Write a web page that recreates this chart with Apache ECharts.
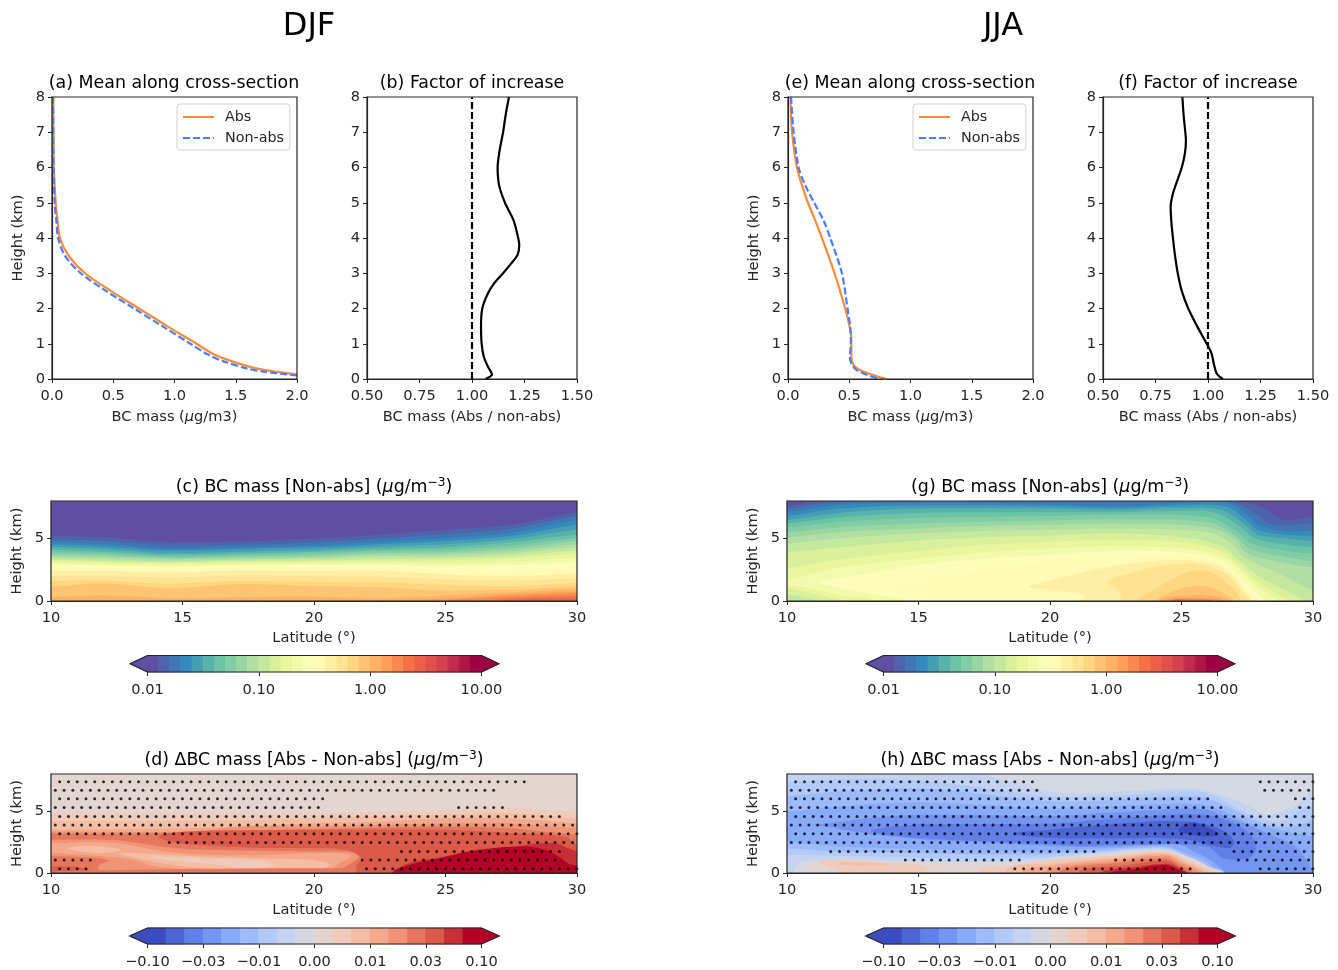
<!DOCTYPE html>
<html><head><meta charset="utf-8">
<style>html,body{margin:0;padding:0;background:#fff}#c{width:1338px;height:970px}</style>
<script src="https://cdn.jsdelivr.net/npm/echarts@6/dist/echarts.min.js"></script>
</head><body><div id="c"></div>
<script>
// ---------- line profiles (value, height in km) ----------
const heightA = [8,7,6,5,4.5,4,3.5,3,2.5,2,1.5,1,0.7,0.5,0.3,0.2,0.13];
const absA    = [0.01,0.012,0.015,0.03,0.045,0.065,0.135,0.27,0.48,0.71,0.94,1.18,1.32,1.47,1.67,1.84,2.0];
const heightA2= [8,7,6,5,4.5,4,3.5,3,2.5,2,1.5,1,0.7,0.5,0.3,0.2,0.1];
const nonA    = [0.008,0.01,0.012,0.022,0.035,0.05,0.105,0.235,0.44,0.67,0.9,1.13,1.27,1.4,1.59,1.75,2.0];
const heightB = [8,7.48,7,6.5,6,5.5,5,4.5,4,3.8,3.52,3.28,3,2.72,2.43,2,1.5,1,0.64,0.36,0.12,0.06,0];
const ratioB  = [1.176,1.16,1.148,1.132,1.122,1.129,1.157,1.198,1.22,1.225,1.217,1.187,1.148,1.106,1.076,1.049,1.043,1.046,1.056,1.075,1.095,1.084,1.065];
const heightE = [8,7,6,5.5,5,4.5,4,3,2,1.5,1.2,1,0.6,0.4,0.25,0.1,0];
const absE    = [0.02,0.033,0.073,0.114,0.163,0.222,0.277,0.38,0.467,0.502,0.516,0.516,0.518,0.535,0.589,0.71,0.80];
const nonE    = [0.025,0.046,0.087,0.14,0.214,0.29,0.345,0.44,0.486,0.507,0.513,0.513,0.505,0.524,0.562,0.657,0.752];
const heightF = [8,7.48,7,6.77,6.4,6,5.5,5.26,4.89,4.5,4,3.5,3,2.5,2,1.5,1,0.74,0.45,0.17,0.06,0];
const ratioF  = [0.878,0.884,0.892,0.895,0.89,0.875,0.846,0.833,0.822,0.825,0.833,0.843,0.856,0.875,0.906,0.948,0.994,1.016,1.027,1.04,1.056,1.071];
const unityRatio = [1,1];
const unityHeight = [0,8];

// ---------- colour bar ticks ----------
const massTicks = [0.01,0.1,1,10];
const deltaTickLabels = ['−0.10','−0.03','−0.01','0.00','0.01','0.03','0.10'];
const massCellCount = 30;
const deltaCellCount = 18;
const massOverflow = [0.00697,14.35];   // tips of the extend arrows, on the log scale
const deltaOverflow = [-0.32,6.32];     // tips of the extend arrows, on the tick index scale

// ---------- filled contours: [colour cell, polygon in (latitude, km)] ----------
function below(c){ const a=c[0], b=c[c.length-1]; return [[9,a[1]],...c,[31,b[1]],[31,-2],[9,-2]]; }
const wholePanel = [[9,-2],[31,-2],[31,10],[9,10]];

const latKnotsC = [10,12,14.5,17,20,22.5,25,27.5,30];
const massContoursC = [
 [5.2,5.1,4.7,4.75,5.0,5.3,5.7,6.1,7.1],
 [4.95,4.8,4.45,4.5,4.7,5.0,5.35,5.8,6.8],
 [4.7,4.55,4.2,4.3,4.45,4.75,5.05,5.45,6.5],
 [4.5,4.35,4.05,4.15,4.3,4.55,4.8,5.2,6.1],
 [4.3,4.15,3.85,3.95,4.1,4.35,4.55,4.95,5.7],
 [4.1,3.95,3.7,3.8,3.95,4.15,4.3,4.7,5.3],
 [3.9,3.8,3.55,3.65,3.8,4.0,4.1,4.45,5.05],
 [3.75,3.65,3.45,3.55,3.65,3.85,3.9,4.2,4.8],
 [3.6,3.5,3.35,3.4,3.5,3.7,3.75,4.0,4.55],
 [3.45,3.35,3.2,3.3,3.4,3.55,3.55,3.8,4.3],
 [3.3,3.2,3.1,3.2,3.25,3.35,3.4,3.6,4.05],
 [3.2,3.1,3.0,3.1,3.15,3.2,3.25,3.4,3.8],
 [3.05,2.95,2.85,2.95,3.0,3.05,3.0,3.15,3.45],
 [2.95,2.85,2.75,2.85,2.9,2.9,2.8,2.9,3.1],
 [2.7,2.65,2.55,2.7,2.7,2.7,2.5,2.4,2.6],
 [2.4,2.4,2.3,2.45,2.4,2.4,2.15,2.0,2.2],
 [2.0,2.0,1.9,2.05,2.0,1.95,1.75,1.65,1.8],
 [1.6,1.65,1.4,1.6,1.55,1.5,1.3,1.2,1.45],
 [1.15,1.4,1.05,1.35,1.2,1.1,0.85,0.9,1.15],
 [0.3,0.45,0.25,0.3,0.35,0.25,0.45,0.7,0.95],
 [0.05,0.07,0.05,0.05,0.07,0.07,0.2,0.55,0.75],
 [-0.5,-0.5,-0.5,-0.5,-0.5,-0.2,0.05,0.38,0.6],
 [-0.5,-0.5,-0.5,-0.5,-0.5,-0.5,-0.2,0.2,0.4],
 [-0.5,-0.5,-0.5,-0.5,-0.5,-0.5,-0.5,0.07,0.2]
];
const layersC = [[0,wholePanel]].concat(massContoursC.map((r,i)=>[i+1,below(r.map((h,j)=>[latKnotsC[j],h]))]));

const layersD = [
 [9,wholePanel],
 [10,below([[10,4.83],[15,4.85],[20,4.85],[25,5.1],[27.5,5.23],[30,4.97]])],
 [11,below([[10,4.2],[15,4.2],[20,4.43],[25,4.7],[27.5,4.83],[30,4.43]])],
 [12,below([[10,3.5],[15,3.62],[20,4.03],[22.5,4.16],[25,4.43],[27.5,4.43],[30,4.03]])],
 [13,below([[10,3.35],[15,3.35],[17.4,3.76],[20,3.76],[22.5,3.9],[25,4.03],[27.5,4.03],[30,3.62]])],
 [14,below([[10,3.2],[12,3.15],[15,3.25],[20,3.55],[25,3.75],[27.5,3.6],[30,3.1]])],
 [13,[[9,2.7],[10,2.68],[12.3,2.68],[14.8,2.0],[20,1.74],[21.44,1.7],[21.7,1.3],[21.3,0.67],[20.8,0.13],[9,0.13]]],
 [12,[[9,2.4],[10,2.4],[12.3,2.45],[14.8,1.62],[17.4,1.43],[20,1.6],[21.4,1.45],[21,0.8],[20.4,0.15],[17,0.12],[15,0.3],[13.8,0.6],[13.3,1.0],[12,1.35],[10,1.6],[9,1.6]]],
 [11,[[10.66,2.0],[11.4,2.2],[12.7,1.88],[11.7,1.6]]],
 [11,[[12.6,1.6],[15,1.4],[18.6,1.15],[20,1.05],[20.6,0.7],[20.2,0.3],[19,0.14],[16.5,0.3],[14.5,0.7]]],
 [10,[[13.7,1.34],[16.1,1.15],[18.1,1.0],[18.5,0.67],[17.6,0.32],[16.4,0.67],[14.8,0.94]]],
 [13,[[9,1.55],[10,1.55],[11.5,1.4],[13,1.0],[13.5,0.4],[13.7,0.1],[9,0.1]]],
 [14,[[9,1.35],[10,1.35],[11.5,1.25],[12.2,1.0],[11.8,0.6],[11.8,0.1],[9,0.1]]],
 [15,[[9,0.6],[10,0.55],[11,0.5],[11.5,0.15],[9,0.15]]],
 [14,[[9,0.1],[31,0.1],[31,-1],[9,-1]]],
 [15,[[14.08,2.95],[14.84,3.3],[17,3.45],[20,3.5],[25,3.49],[27.5,3.22],[29.55,2.95],[30,2.28],[31,2],[31,-1],[21.9,-1],[21.6,0.5],[21.8,1.2],[21.2,1.88],[20,2.01],[17.4,2.07],[14.84,2.42]]],
 [16,[[22.8,-0.5],[23.5,0.7],[25,1.3],[27,1.95],[29.05,2.42],[29.8,1.9],[31,1.0],[31,-0.5]]],
 [17,[[23.0,-0.5],[23.1,0.27],[24.74,1.2],[26.26,1.88],[28,2.15],[28.8,1.88],[29.3,1.34],[29.8,0.67],[31,0.5],[31,-0.5]]]
];

const layersG = [
 [0,wholePanel],
 [1,below([[10,7.6],[11,8],[12,8.6],[20,8.6],[26.5,8.6],[27.3,8],[28,7.6],[28.9,6.5],[30,6.8]])],
 [2,below([[10,7.4],[12,7.95],[15,8.05],[20,8.0],[24,8.0],[26.5,8.05],[27.2,7.7],[27.8,7],[28.5,6.1],[30,6.2]])],
 [3,below([[10,7.1],[12,7.7],[15,7.85],[20,7.75],[22.5,7.6],[25,7.85],[26.8,7.8],[27.5,6.9],[28,6.0],[29,5.6],[30,5.6]])],
 [4,below([[10,6.8],[12,7.4],[15,7.65],[20,7.6],[22.5,7.45],[25,7.65],[26.7,7.55],[27.4,6.6],[27.9,5.7],[29,5.3],[30,5.2]])],
 [5,below([[10,6.5],[12,7.05],[15,7.4],[20,7.4],[22.5,7.3],[25,7.45],[26.5,7.3],[27.3,6.3],[27.9,5.3],[29,5.0],[30,4.8]])],
 [6,below([[10,6.2],[12,6.7],[15,7.05],[20,7.1],[22.5,7.1],[25,7.2],[26.3,7.05],[27.2,6.0],[27.8,5.0],[29,4.5],[30,4.3]])],
 [7,below([[10,5.9],[12,6.35],[15,6.65],[17.5,6.75],[20,6.8],[22.5,6.9],[26,6.7],[27,5.7],[27.7,4.6],[29,4.0],[30,3.8]])],
 [8,below([[10,5.5],[12,5.9],[15,6.2],[17.5,6.35],[20,6.45],[22.5,6.55],[26,6.3],[27,5.3],[27.6,4.2],[29,3.5],[30,3.2]])],
 [9,below([[10,5.1],[12,5.5],[15,5.8],[17.5,6.0],[20,6.1],[22.5,6.2],[26,5.9],[27,5],[27.5,3.8],[29,3.0],[30,2.7]])],
 [10,below([[10,4.6],[12,5.0],[15,5.4],[17.5,5.6],[20,5.7],[22.5,5.8],[26,5.5],[26.9,4.6],[27.4,3.5],[29,1.9],[30,0.9]])],
 [11,[[9,3.8],[10,3.9],[12,4.3],[15,4.85],[17.5,5.1],[20,5.25],[22.5,5.4],[25,5.1],[26.5,4.4],[27.2,3.2],[28,1.9],[29,0.8],[29.8,-0.2],[29.8,-1],[11.1,-1],[11.1,0],[10.7,0.3],[10,0.55],[9,0.6]]],
 [12,[[9,2.4],[10,2.6],[12,3.3],[15,4.0],[17.5,4.5],[20,4.75],[22.5,4.9],[25,4.7],[26.5,4.0],[27.2,2.9],[27.8,1.7],[28.5,0.7],[29.2,-0.2],[29.2,-1],[12.1,-1],[12.1,0],[11.5,0.3],[10.8,0.7],[10,1.0],[9,1.1]]],
 [13,[[9,1.6],[10,1.7],[11,2.2],[12,2.7],[15,3.4],[17.5,3.9],[20,4.2],[22.5,4.4],[25,4.2],[26.5,3.6],[27.2,2.6],[27.7,1.5],[28.3,0.5],[28.8,-0.2],[28.8,-1],[13.4,-1],[13.4,0],[12.2,0.4],[11,0.95],[10,1.3],[9,1.4]]],
 [14,[[11.2,1.5],[13,2.2],[15,2.9],[17.5,3.4],[20,3.7],[22.5,4.0],[25,3.9],[26.5,3.3],[27.1,2.3],[27.6,1.2],[28.1,0.2],[28.3,-0.2],[28.3,-1],[14.5,-1],[14.5,0],[14,0.3],[13,0.6],[11.8,1.15]]],
 [15,[[13,1.12],[15,1.5],[16,2],[17.5,2.6],[20,3.2],[22.5,3.55],[25,3.65],[26.5,3.1],[27,2.1],[27.5,1.0],[27.9,0.1],[28,-1],[15.6,-1],[15.6,0],[15,0.6],[14,0.95]]],
 [16,[[19.2,1.15],[20.5,1.9],[22,2.65],[23.5,3.1],[25,3.3],[26.3,2.9],[27,1.9],[27.4,0.8],[27.7,0],[27.7,-1],[21,-1],[21.3,0.45],[20,0.85]]],
 [17,[[22.2,1.6],[23,2.2],[24.5,2.9],[25.8,2.9],[26.8,2],[27.3,0.7],[27.6,0],[27.6,-1],[22.5,-1],[22.7,0.5],[22.5,0.9]]],
 [18,[[23.3,0],[23.8,0.7],[24.5,1.6],[25.3,2.35],[26,2.4],[26.8,1.3],[27.2,0.3],[27.3,-1],[23.3,-1]]],
 [19,[[24,0],[24.6,0.7],[25.2,1.1],[26,1.15],[26.8,0.4],[27,0],[27,-1],[24,-1]]],
 [20,[[24.2,0.1],[25,0.45],[26,0.45],[26.8,0.1],[26.9,-1],[24.2,-1]]],
 [21,[[24.4,0.05],[25.2,0.25],[26,0.2],[26.6,0.03],[26.6,-1],[24.4,-1]]],
 [23,[[24.6,0],[25.2,0.12],[25.9,0.1],[26.2,0],[26.2,-1],[24.6,-1]]]
];

const layersH = [
 [8,wholePanel],
 [7,[[9,9],[17.6,9],[17.6,8],[18.4,7.5],[20,6.6],[21.2,6.44],[23.7,6.7],[25.5,6.8],[26.5,6.3],[27.5,5.5],[28.2,4.75],[28.8,4.97],[29.36,5.5],[29.74,6.3],[30,6.7],[31,7.2],[31,-2],[9,-2]]],
 [6,below([[10,7.4],[12,7.55],[13.9,7.6],[16.8,7.1],[20,6.2],[22.4,6.25],[25.5,6.6],[26.3,6.2],[27,5.4],[28,4.4],[28.8,4.15],[29.4,4.97],[30,5.5]])],
 [5,below([[10,6.2],[12,6.6],[14.8,6.85],[16.5,6.6],[20,5.8],[22.4,5.9],[25.5,6.2],[26.3,5.8],[27,5.1],[28,4.1],[29,3.7],[30,4.2]])],
 [4,below([[10,4.95],[12,5.4],[14.8,5.7],[17,5.55],[20,5.2],[23,5.45],[25.5,5.6],[26.5,5.1],[27.5,4.1],[28.5,3.6],[29.3,3.2],[30,3.0]])],
 [3,below([[10,3.9],[11,3.9],[13,4.4],[14.8,4.7],[17,4.7],[20,4.6],[22.45,4.9],[25,5.2],[26,5.1],[26.5,4.7],[27.5,3.9],[28.5,3.0],[29.3,2.2],[29.8,0.9],[30,0.3]])],
 [2,[[13.2,3.45],[14.8,3.9],[17,3.95],[20,4.0],[22.45,4.4],[24.9,4.75],[25.9,4.7],[26.76,4.25],[27.5,3.36],[27.85,2.2],[27.6,1.25],[26.6,1.2],[26,2.1],[23.7,2.3],[21.2,2.2],[19.9,2.35],[16,2.7],[13.8,3.1]]],
 [1,[[18.6,3.2],[20,3.5],[22.45,3.95],[24.6,4.2],[25.9,3.95],[26.76,3.2],[27,2.4],[26.76,2.0],[25,2.75],[22.45,2.8],[19.9,2.85]]],
 [0,[[24.9,3.6],[25.4,4.1],[25.9,3.76],[26.4,3.2],[26.2,2.95],[25.4,3.1],[24.9,3.36]]],
 [4,[[9,3.9],[11,3.85],[13,3.2],[15,2.75],[17,2.5],[19.9,2.2],[21.2,2.1],[23.7,2.25],[24.9,2.3],[25.5,1.7],[26.2,0.9],[27,-1],[9,-1]]],
 [5,[[9,2.6],[10,2.5],[12,2.15],[14,2.0],[17,1.85],[19.5,1.75],[22,1.95],[24.4,2.15],[25.3,1.5],[26,0.8],[26.8,-1],[9,-1]]],
 [6,[[9,2.1],[10,2.0],[12,1.75],[14,1.65],[17,1.5],[19.5,1.5],[22,1.8],[24.4,2.05],[25.2,1.4],[25.9,0.7],[26.7,-1],[9,-1]]],
 [7,[[9,1.6],[10,1.5],[12,1.4],[14,1.3],[17,1.15],[19.5,1.25],[22,1.7],[24.4,1.95],[25.1,1.35],[25.8,0.65],[26.6,-1],[9,-1]]],
 [8,[[10.3,-1],[10.3,0.4],[10.6,0.9],[12,1.1],[14,1.0],[17,0.9],[19.5,1.1],[22,1.6],[24.4,1.88],[25,1.3],[25.7,0.6],[26.5,-1]]],
 [9,[[10.8,-1],[10.8,0.5],[11,0.85],[12.5,0.95],[15,0.75],[17.5,0.7],[20,1.0],[22.4,1.5],[24.4,1.8],[25.4,1.2],[26,0.54],[26.64,0],[26.7,-1]]],
 [10,[[11.2,0.9],[12,1.05],[13.5,0.9],[15.3,0.45],[15.1,-0.5],[12.7,-0.5],[11.6,0.5]]],
 [11,[[12,0.85],[13,0.8],[14,0.72],[13,0.6],[12,0.68]]],
 [10,[[17.4,0.3],[18.5,0.55],[19.9,1.07],[22.45,1.42],[24.42,1.69],[25.37,0.94],[25.9,0.4],[26.45,0],[26.5,-1],[17.5,-1]]],
 [11,[[18.4,0.4],[20,0.75],[22.45,1.3],[24.42,1.6],[25.3,0.85],[25.8,0.35],[26.3,-0.2],[18.4,-1]]],
 [12,[[19,0.2],[20,0.6],[22.45,1.15],[24.4,1.5],[25.1,0.85],[25.7,0.3],[26.1,-0.5],[19,-0.5]]],
 [13,[[20,0.35],[22.45,0.95],[24.4,1.4],[25,0.8],[25.6,0.2],[25.9,-0.5],[19.6,-0.5]]],
 [14,[[20.5,0.3],[22.45,0.8],[24.4,1.2],[24.9,0.7],[25.4,0.15],[25.7,-0.5],[20.2,-0.5]]],
 [15,[[21.2,0.25],[22.8,0.6],[24.4,1.0],[24.9,0.55],[25.2,0.1],[25.3,-0.5],[21,-0.5]]],
 [16,[[22,0.1],[23.3,0.5],[24.4,0.75],[24.9,0.4],[25.1,-0.5],[21.9,-0.5]]],
 [17,[[22.2,0],[23.1,0.27],[24.36,0.67],[24.9,0.27],[25.24,0],[25.24,-0.5],[22.2,-0.5]]]
];

// ---------- significance stippling: row heights, first latitude, kept latitude ranges ----------
const stippleHeights = [7.38,6.68,5.99,5.29,4.56,3.87,3.17,2.47,1.74,1.05,0.35];
const stippleStart   = [10.33,10.165,10.33,10.165,10.33,10.165,10.33,10.165,10.33,10.165,10.33];
const stippleRangesD = [
 [[10,28.3]],[[10,26.85]],[[10,20.65]],[[10,20.2],[25.4,27.2]],[[10,29.35]],[[10,29.85]],[[10,30]],
 [[14.45,30]],[[23.25,29.55]],[[10,11.55],[21.75,29.2]],[[10,11.4],[21.95,30]]
];
const stippleRangesH = [
 [[10,19.65],[27.9,30]],[[10,19.8],[28.05,30]],[[10,26.3],[29.2,30]],[[10,26.8],[29.35,30]],[[10,30]],[[10,30]],[[10,30]],[[10,30]],
 [[11.55,21.7],[26.85,30]],[[14.35,19.15],[22.25,24.45],[27.05,30]],[[18.55,25.65],[27.85,30]]
];

// ---------- helpers ----------
const FONT = 'DejaVu Sans', INK = '#262626', TITLE_SIZE = 17.4, LABEL_SIZE = 14.6;
function hexMix(stops,t){
  const p=t*(stops.length-1), i=Math.min(Math.floor(p),stops.length-2), f=p-i;
  const c=s=>[1,3,5].map(k=>parseInt(s.substr(k,2),16));
  const a=c(stops[i]), b=c(stops[i+1]);
  return 'rgb('+a.map((v,k)=>Math.round(v+(b[k]-v)*f)).join(',')+')';
}
const spectralStops=['#5e4fa2','#3288bd','#66c2a5','#abdda4','#e6f598','#ffffbf','#fee08b','#fdae61','#f46d43','#d53e4f','#9e0142'];
const coolwarmStops=['#3b4cc0','#6282ea','#8db0fe','#b9d0f9','#dddcdc','#f5c4ac','#f49a7b','#dd5f4b','#b40426'];
const spectralCell=i=>hexMix(spectralStops,i/(massCellCount-1));
const coolwarmCell=i=>hexMix(coolwarmStops,i/(deltaCellCount-1));
const zip=(a,b)=>a.map((v,i)=>[v,b[i]]);
function stipple(ranges){
  const out=[];
  stippleHeights.forEach((h,r)=>{
    for(let k=0;k<60;k++){
      const lat=stippleStart[r]+k/3;
      if(ranges[r].some(q=>lat>=q[0]&&lat<=q[1])) out.push([lat,h]);
    }
  });
  return out;
}

const grid=[],xAxis=[],yAxis=[],series=[],title=[];
const label={fontFamily:FONT,fontSize:LABEL_SIZE,color:INK};
const tickStyle={show:true,length:4,lineStyle:{color:INK,width:1}};
const lineStyleAxis={show:true,onZero:false,lineStyle:{color:INK,width:1.2}};
const nameRich={i:{fontFamily:FONT,fontSize:LABEL_SIZE,fontStyle:'italic',color:INK}};
const xTick=Object.assign({},label,{margin:10});
const barTick=Object.assign({},label,{margin:11});
const yTick=Object.assign({},label,{margin:7,padding:[3,0,0,0]});
function addGrid(box,xa,ya){
  grid.push({left:box[0],top:box[1],width:box[2],height:box[3],show:true,borderColor:INK,borderWidth:1.2,backgroundColor:'transparent',z:5});
  xAxis.push(Object.assign({gridIndex:grid.length-1,type:'value',position:'bottom',splitLine:{show:false},axisLine:lineStyleAxis,axisTick:tickStyle,
    nameLocation:'middle',nameTextStyle:Object.assign({},label,{rich:nameRich})},xa));
  yAxis.push(Object.assign({gridIndex:grid.length-1,type:'value',splitLine:{show:false},axisLine:lineStyleAxis,axisTick:tickStyle,
    nameLocation:'middle',nameTextStyle:Object.assign({},label)},ya));
  return grid.length-1;
}
function profileAxes(box,xmin,xmax,step,dec,xname){
  return addGrid(box,
    {min:xmin,max:xmax,interval:step,name:xname,nameGap:31,axisLabel:Object.assign({},xTick,{formatter:v=>v.toFixed(dec)})},
    {min:0,max:8,interval:1,name:'Height (km)',nameGap:26,axisLabel:Object.assign({},yTick)});
}
function sectionAxes(box){
  return addGrid(box,
    {min:10,max:30,interval:5,name:'Latitude (°)',nameGap:30,axisLabel:Object.assign({},xTick)},
    {min:0,max:8,name:'Height (km)',nameGap:26,
     axisTick:Object.assign({},tickStyle,{customValues:[0,5]}),
     axisLabel:Object.assign({},yTick,{customValues:[0,5]})});
}
function polygonSeries(g,layers,colourOf){
  series.push({type:'custom',xAxisIndex:g,yAxisIndex:g,clip:true,silent:true,z:1,
    data:layers.map(l=>[l[1][0][0],l[1][0][1],l[0]]),
    renderItem:(p,api)=>{
      const l=layers[p.dataIndex];
      return {type:'polygon',shape:{points:l[1].map(q=>api.coord(q)),smooth:0.35},
              style:{fill:colourOf(l[0]),stroke:null}};
    }});
}
function stippleSeries(g,ranges){
  series.push({type:'scatter',xAxisIndex:g,yAxisIndex:g,data:stipple(ranges),symbol:'circle',symbolSize:3,silent:true,z:3,
    itemStyle:{color:'#000'},animation:false});
}
function colourBar(box,xa,edges,over,colourOf){
  const g=addGrid(box,xa,{min:0,max:1,show:false});
  const n=edges.length-1;
  const cells=[];
  for(let i=0;i<n;i++) cells.push({c:i,q:[[edges[i],0],[edges[i+1],0],[edges[i+1],1],[edges[i],1]]});
  cells.push({c:0,q:[[edges[0],0],[over[0],0.5],[edges[0],1]]});
  cells.push({c:n-1,q:[[edges[n],0],[over[1],0.5],[edges[n],1]]});
  cells.push({c:-1,q:[[edges[0],0],[over[0],0.5],[edges[0],1],[edges[n],1],[over[1],0.5],[edges[n],0]]});
  series.push({type:'custom',xAxisIndex:g,yAxisIndex:g,clip:false,silent:true,z:2,
    data:cells.map(k=>[k.q[0][0],k.q[0][1],k.c]),
    renderItem:(p,api)=>{
      const k=cells[p.dataIndex];
      return {type:'polygon',shape:{points:k.q.map(q=>api.coord(q))},
        style:k.c<0?{fill:'none',stroke:INK,lineWidth:1.1}:{fill:colourOf(k.c),stroke:colourOf(k.c),lineWidth:0.8}};
    }});
  grid[g].show=false;
  xAxis[g].axisLine={show:false};
}
function addTitle(text,cx,top,size){
  title.push({text,left:cx,top,textAlign:'center',padding:0,textStyle:{fontFamily:FONT,fontWeight:'normal',fontSize:size,color:'#000',
    rich:{i:{fontFamily:FONT,fontSize:size,fontStyle:'italic',color:'#000'},
          s:{fontFamily:FONT,fontSize:size*0.7,color:'#000',padding:[0,0,8,0]}}}});
}
function profileLines(g,dataA,dataN){
  series.push({name:'Abs',type:'line',xAxisIndex:g,yAxisIndex:g,data:dataA,smooth:0.3,symbol:'none',clip:true,z:3,
    lineStyle:{color:'#f98a3a',width:2.2},itemStyle:{color:'#f98a3a'}});
  series.push({name:'Non-abs',type:'line',xAxisIndex:g,yAxisIndex:g,data:dataN,smooth:0.3,symbol:'none',clip:true,z:3,
    lineStyle:{color:'#4a7dff',width:2.2,type:[7,3]},itemStyle:{color:'#4a7dff'}});
}
function ratioLines(g,data,name){
  series.push({name:'Reference '+name,type:'line',xAxisIndex:g,yAxisIndex:g,data:zip(unityRatio,unityHeight),symbol:'none',z:3,
    lineStyle:{color:'#000',width:2.2,type:[7,3]}});
  series.push({name:'Factor '+name,type:'line',xAxisIndex:g,yAxisIndex:g,data,smooth:0.3,symbol:'none',z:3,
    lineStyle:{color:'#000',width:2.2}});
}

// ---------- panels ----------
const massEdges=Array.from({length:massCellCount+1},(_,i)=>Math.pow(10,-2+i/10));
const deltaEdges=Array.from({length:deltaCellCount+1},(_,i)=>i/3);
const massAxis={type:'log',logBase:10,min:0.01,max:10,axisLabel:Object.assign({},barTick,{formatter:v=>Number(v).toFixed(2)})};
const deltaAxis={min:0,max:6,interval:1,axisLabel:Object.assign({},barTick,{formatter:v=>deltaTickLabels[Math.round(v)]})};

function column(ox,names,dataA,dataN,ratio,layersMass,layersDelta,rangesDelta){
  const a=profileAxes([ox+52,97,245,282],0,2,0.5,1,'BC mass ({i|μ}g/m3)');
  profileLines(a,dataA,dataN);
  const b=profileAxes([ox+367,97,210,282],0.5,1.5,0.25,2,'BC mass (Abs / non-abs)');
  yAxis[b].name='';
  ratioLines(b,ratio,names[1]);
  const c=sectionAxes([ox+51,501,526,100]);
  polygonSeries(c,layersMass,spectralCell);
  const d=sectionAxes([ox+51,774,526,99]);
  polygonSeries(d,layersDelta,coolwarmCell);
  stippleSeries(d,rangesDelta);
  colourBar([ox+147.5,655.5,334,16.5],Object.assign({},massAxis),massEdges,massOverflow,spectralCell);
  colourBar([ox+147.5,928,334,16.5],Object.assign({},deltaAxis),deltaEdges,deltaOverflow,coolwarmCell);
  addTitle('('+names[0]+') Mean along cross-section',ox+174,75,TITLE_SIZE);
  addTitle('('+names[1]+') Factor of increase',ox+472,75,TITLE_SIZE);
  addTitle('('+names[2]+') BC mass [Non-abs] ({i|μ}g/m{s|−3})',ox+314,477,TITLE_SIZE);
  addTitle('('+names[3]+') ΔBC mass [Abs - Non-abs] ({i|μ}g/m{s|−3})',ox+314,750,TITLE_SIZE);
}
column(0,['a','b','c','d'],zip(absA,heightA),zip(nonA,heightA2),zip(ratioB,heightB),layersC,layersD,stippleRangesD);
column(736,['e','f','g','h'],zip(absE,heightE),zip(nonE,heightE),zip(ratioF,heightF),layersG,layersH,stippleRangesH);
addTitle('DJF',309,11,32);
addTitle('JJA',1003,11,32);

const legendBase={orient:'vertical',top:104,padding:[6,6,5,5],itemWidth:31,itemHeight:14,itemGap:7,selectedMode:false,
  backgroundColor:'#fff',borderColor:'#d0d0d0',borderWidth:1,borderRadius:3,data:['Abs','Non-abs'],
  itemStyle:{color:'transparent',borderColor:'transparent',borderWidth:0,opacity:0},
  textStyle:{fontFamily:FONT,fontSize:14.3,color:INK,padding:[0,0,0,6]},z:10};
const legend=[Object.assign({left:177},legendBase),Object.assign({left:913},legendBase)];

const chart=echarts.init(document.getElementById('c'),null,{renderer:'canvas',width:1338,height:970});
chart.setOption({animation:false,backgroundColor:'#fff',title,grid,xAxis,yAxis,legend,series});
</script></body></html>
